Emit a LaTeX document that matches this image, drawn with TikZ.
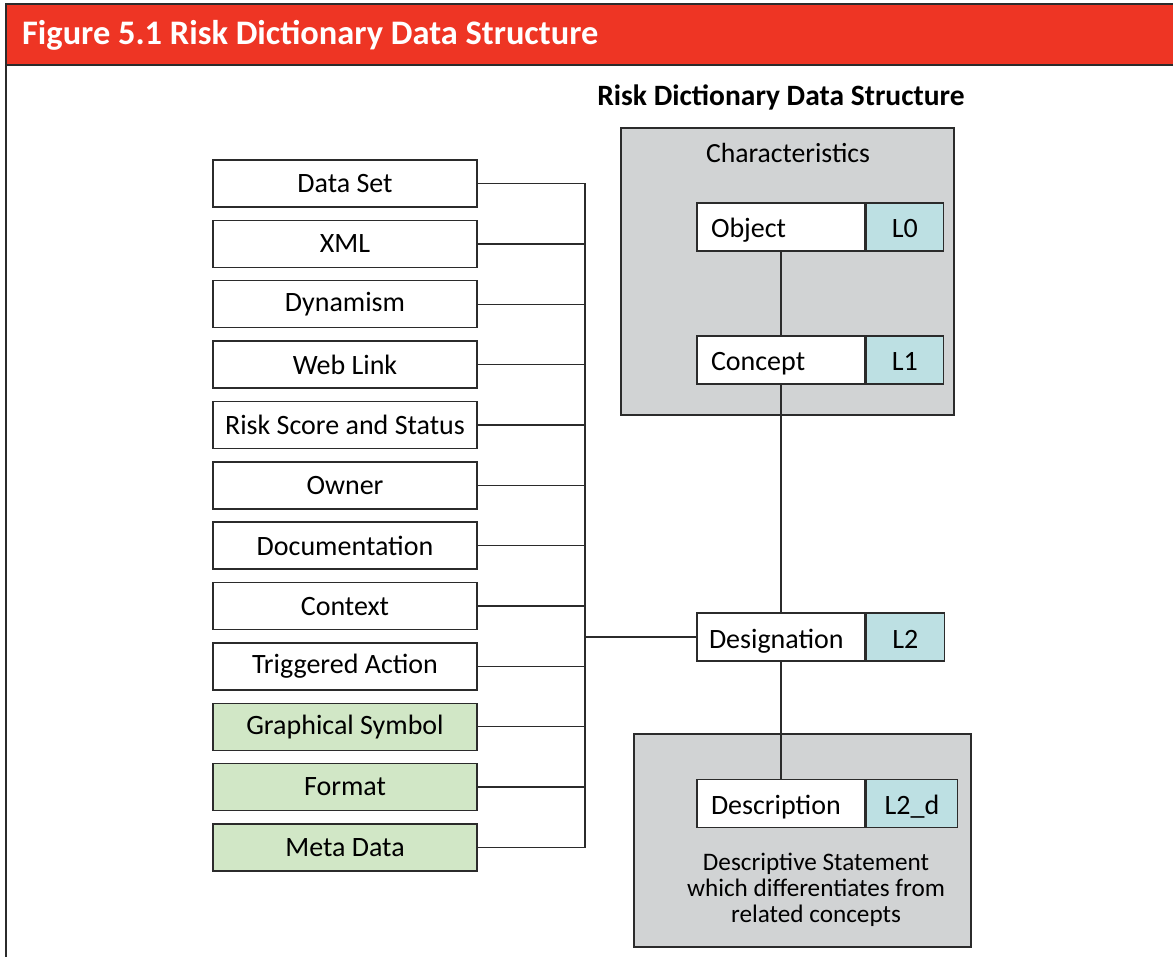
\documentclass[tikz,border=0pt]{standalone}
\usepackage{fontspec}
\setmainfont{Carlito}
\definecolor{hdrred}{HTML}{EE3524}
\definecolor{panelgray}{HTML}{D1D3D4}
\definecolor{levelblue}{HTML}{BDE0E3}
\definecolor{attrgreen}{HTML}{D1E7C6}
\definecolor{edge}{HTML}{2B2B2B}
\tikzset{
  boxfont/.style={font=\fontsize{28}{30}\selectfont},
  attr/.style={draw=edge, line width=1.4pt, fill=white, minimum width=264pt,
    minimum height=47pt, inner sep=0pt, boxfont},
  attrg/.style={attr, fill=attrgreen},
  term/.style={draw=edge, line width=1.4pt, fill=white, minimum width=168pt,
    minimum height=48pt, inner sep=0pt, text width=140pt, align=left,
    text height=25pt, text depth=3pt, boxfont},
  level/.style={draw=edge, line width=1.4pt, fill=levelblue, minimum height=48pt,
    inner sep=0pt, text height=25pt, text depth=3pt, boxfont},
  panel/.style={draw=edge, line width=1.4pt, fill=panelgray},
  link/.style={draw=edge, line width=1.4pt},
}
\begin{document}
\begin{tikzpicture}[x=1pt, y=-1pt]
\useasboundingbox (0,0) rectangle (1173,957);
\fill[white] (0,0) rectangle (1173,957);
% header band and frame
\draw[edge, line width=1.6pt, fill=hdrred] (6,4) rectangle (1180,65);
\draw[edge, line width=1.6pt] (6,65) -- (6,960);
\node[anchor=west, text=white, font=\fontsize{34.4}{40}\selectfont\bfseries, inner sep=0pt]
  (title) at (22,35) {Figure 5.1 Risk Dictionary Data Structure};
\node[font=\fontsize{29.5}{32}\selectfont\bfseries, inner sep=0pt] (sub) at (781,97)
  {Risk Dictionary Data Structure};

% grey panels
\draw[panel] (621,128) rectangle (954,415);
\node[font=\fontsize{27.7}{30}\selectfont, inner sep=0pt] (chars) at (788,153) {Characteristics};
\draw[panel] (634,734) rectangle (971,947);

% attribute list
\foreach \lab/\nm/\st [count=\i from 0] in {
  Data Set/a0/attr, XML/a1/attr, Dynamism/a2/attr, Web Link/a3/attr,
  Risk Score and Status/a4/attr, Owner/a5/attr, Documentation/a6/attr,
  Context/a7/attr, Triggered Action/a8/attr, Graphical Symbol/a9/attrg,
  Format/a10/attrg, Meta Data/a11/attrg}
  \node[\st] (\nm) at (345,183.5+60.36*\i) {\lab};

% terms with level tags
\node[term] (obj) at (781,227) {Object};
\node[level, minimum width=77pt, anchor=west] (l0) at (obj.east) {L0};
\node[term] (con) at (781,360) {Concept};
\node[level, minimum width=77pt, anchor=west] (l1) at (con.east) {L1};
\node[term, text width=144pt] (des) at (781,637) {Designation};
\node[level, minimum width=78pt, anchor=west] (l2) at (des.east) {L2};
\node[term] (dsc) at (781,803.5) {Description};
\node[level, minimum width=91pt, anchor=west] (l2d) at (dsc.east) {L2\_d};

\node[align=center, font=\fontsize{25.2}{26}\selectfont, inner sep=0pt] (stmt) at (816,890)
  {Descriptive Statement\\which differentiates from\\related concepts};

% bus collecting the attributes
\coordinate (bt) at (585,183.5);
\coordinate (bb) at (585,847.5);
\draw[link] (bt) -- (bb);
\foreach \nm in {a0,a1,a2,a3,a4,a5,a6,a7,a8,a9,a10,a11}
  \draw[link] (\nm.east) -- (\nm.east -| bt);
\draw[link] (des.west -| bt) -- (des.west);

% hierarchy links
\draw[link] (obj.south) -- (con.north);
\draw[link] (con.south) -- (des.north);
\draw[link] (des.south) -- (dsc.north);
\end{tikzpicture}
\end{document}
